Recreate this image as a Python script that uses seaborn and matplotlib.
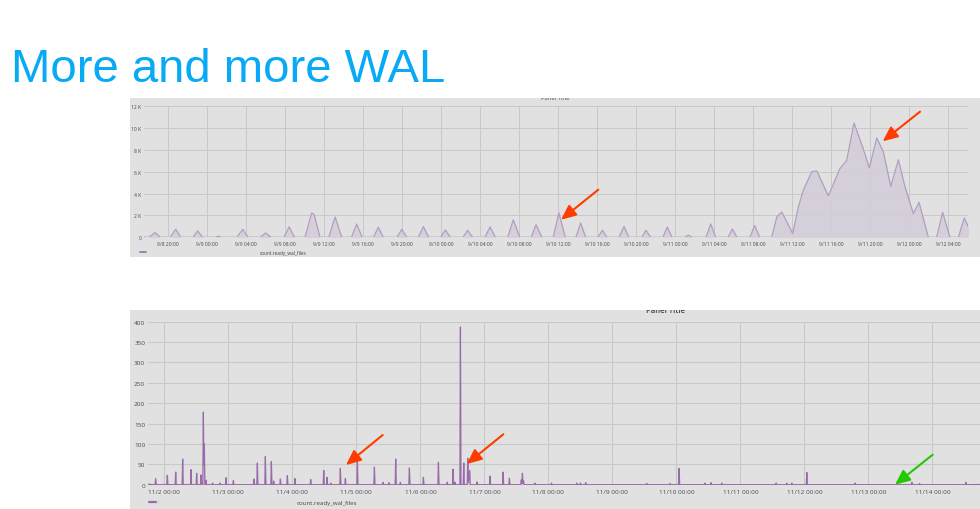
import matplotlib
matplotlib.use("Agg")
import matplotlib.pyplot as plt
import matplotlib.dates as mdates
from matplotlib.patches import FancyArrowPatch
from matplotlib.lines import Line2D
from matplotlib.ticker import FuncFormatter
import pandas as pd
import seaborn as sns

# ---------------- data ----------------
TITLE = "More and more WAL"
SERIES_NAME = "count.ready_wal_files"
PANEL_TITLE = "Panel Title"

top_times = [
    "09-08 17:25", "09-08 17:50",
    "09-08 18:05", "09-08 18:42", "09-08 19:15",
    "09-08 20:15", "09-08 20:49", "09-08 21:20",
    "09-08 22:35", "09-08 23:04", "09-08 23:35",
    "09-09 00:50", "09-09 01:11", "09-09 01:30",
    "09-09 03:05", "09-09 03:41", "09-09 04:15",
    "09-09 05:30", "09-09 06:02", "09-09 06:35",
    "09-09 07:55", "09-09 08:26", "09-09 09:00",
    "09-09 10:04", "09-09 10:45", "09-09 11:00", "09-09 11:36",
    "09-09 12:30", "09-09 13:09", "09-09 13:50",
    "09-09 14:50", "09-09 15:22", "09-09 15:55",
    "09-09 17:05", "09-09 17:35", "09-09 18:05",
    "09-09 19:30", "09-09 19:59", "09-09 20:30",
    "09-09 21:40", "09-09 22:12", "09-09 22:45",
    "09-09 23:58", "09-10 00:27", "09-10 00:58",
    "09-10 02:15", "09-10 02:44", "09-10 03:15",
    "09-10 04:30", "09-10 05:02", "09-10 05:35",
    "09-10 06:50", "09-10 07:25", "09-10 08:05",
    "09-10 09:15", "09-10 09:45", "09-10 10:20",
    "09-10 11:30", "09-10 12:05", "09-10 12:45",
    "09-10 13:50", "09-10 14:19", "09-10 14:50",
    "09-10 16:05", "09-10 16:33", "09-10 17:00",
    "09-10 18:15", "09-10 18:46", "09-10 19:15",
    "09-10 20:35", "09-10 21:01", "09-10 21:30",
    "09-10 22:45", "09-10 23:12", "09-10 23:40",
    "09-11 01:00", "09-11 01:21", "09-11 01:45",
    "09-11 03:10", "09-11 03:39", "09-11 04:10",
    "09-11 05:25", "09-11 05:52", "09-11 06:20",
    "09-11 07:40", "09-11 08:09", "09-11 08:40",
    "09-11 09:54", "09-11 10:25", "09-11 10:56", "09-11 12:03",
    "09-11 12:38", "09-11 13:08", "09-11 14:00", "09-11 14:31",
    "09-11 15:42", "09-11 16:10", "09-11 16:54", "09-11 17:35",
    "09-11 18:20", "09-11 19:17", "09-11 19:54", "09-11 20:40",
    "09-11 21:21", "09-11 22:06", "09-11 22:53", "09-11 23:34",
    "09-12 00:25", "09-12 01:00", "09-12 01:57",
    "09-12 02:48", "09-12 03:25", "09-12 04:10",
    "09-12 05:02", "09-12 05:38", "09-12 06:03",
]
top_values = [
    50, 0,
    0, 430, 0,
    0, 730, 0,
    0, 580, 0,
    0, 100, 0,
    0, 730, 0,
    0, 400, 0,
    0, 950, 0,
    0, 2230, 2100, 0,
    0, 1860, 0,
    0, 1220, 0,
    0, 920, 0,
    0, 730, 0,
    0, 980, 0,
    0, 670, 0,
    0, 640, 0,
    0, 950, 0,
    0, 1600, 0,
    0, 1160, 0,
    0, 2230, 0,
    0, 1310, 0,
    0, 640, 0,
    0, 1000, 0,
    0, 640, 0,
    0, 950, 0,
    0, 200, 0,
    0, 1220, 0,
    0, 760, 0,
    0, 1070, 0,
    0, 1860, 2320, 340,
    2780, 4300, 6000, 6080,
    3800, 4760, 6300, 7050,
    10470, 8100, 6350, 9100,
    7800, 4670, 7100, 4600,
    2170, 3200, 0,
    0, 2300, 0,
    0, 1770, 950,
]

bottom_times = [
    "11-01 17:50",
    "11-01 20:30", "11-01 20:45", "11-01 21:00",
    "11-02 00:55", "11-02 01:08", "11-02 01:20",
    "11-02 04:04", "11-02 04:16", "11-02 04:28",
    "11-02 06:41", "11-02 06:53", "11-02 07:05",
    "11-02 09:49", "11-02 10:01", "11-02 10:13",
    "11-02 11:56", "11-02 12:08", "11-02 12:20",
    "11-02 13:34", "11-02 13:46", "11-02 13:58",
    "11-02 14:26", "11-02 14:38", "11-02 14:50", "11-02 15:00", "11-02 15:12",
    "11-02 15:26", "11-02 15:38", "11-02 15:50",
    "11-02 17:54", "11-02 18:06", "11-02 18:18",
    "11-02 20:41", "11-02 20:53", "11-02 21:05",
    "11-02 22:56", "11-02 23:08", "11-02 23:20",
    "11-03 01:41", "11-03 01:53", "11-03 02:05",
    "11-03 09:26", "11-03 09:38", "11-03 09:50",
    "11-03 10:41", "11-03 10:53", "11-03 11:05",
    "11-03 13:41", "11-03 13:53", "11-03 14:05",
    "11-03 15:56", "11-03 16:08", "11-03 16:20",
    "11-03 16:49", "11-03 17:01", "11-03 17:13",
    "11-03 19:19", "11-03 19:31", "11-03 19:43",
    "11-03 21:56", "11-03 22:08", "11-03 22:20",
    "11-04 00:48", "11-04 01:00", "11-04 01:12",
    "11-04 06:41", "11-04 06:53", "11-04 07:05",
    "11-04 11:34", "11-04 11:46", "11-04 11:58",
    "11-04 12:48", "11-04 13:00", "11-04 13:12",
    "11-04 14:12", "11-04 14:24", "11-04 14:36",
    "11-04 17:48", "11-04 18:00", "11-04 18:12",
    "11-04 19:41", "11-04 19:53", "11-04 20:05",
    "11-05 00:11", "11-05 00:23", "11-05 00:35",
    "11-05 06:34", "11-05 06:46", "11-05 06:58",
    "11-05 09:51", "11-05 10:03", "11-05 10:15",
    "11-05 11:59", "11-05 12:11", "11-05 12:23",
    "11-05 14:33", "11-05 14:45", "11-05 14:57",
    "11-05 16:18", "11-05 16:30", "11-05 16:42",
    "11-05 19:41", "11-05 19:53", "11-05 20:05",
    "11-06 00:56", "11-06 01:08", "11-06 01:20",
    "11-06 06:34", "11-06 06:46", "11-06 06:58",
    "11-06 09:53", "11-06 10:05", "11-06 10:17",
    "11-06 12:04", "11-06 12:16", "11-06 12:28",
    "11-06 12:48", "11-06 13:00", "11-06 13:12",
    "11-06 14:49", "11-06 15:01", "11-06 15:13",
    "11-06 16:04", "11-06 16:16", "11-06 16:28",
    "11-06 17:34", "11-06 17:46", "11-06 17:58", "11-06 18:30", "11-06 18:42",
    "11-06 21:04", "11-06 21:16", "11-06 21:28",
    "11-07 01:56", "11-07 02:08", "11-07 02:20",
    "11-07 06:49", "11-07 07:01", "11-07 07:13",
    "11-07 09:11", "11-07 09:23", "11-07 09:35",
    "11-07 13:38", "11-07 13:50", "11-07 14:02", "11-07 14:16", "11-07 14:28", "11-07 14:40", "11-07 14:52",
    "11-07 18:44", "11-07 18:56", "11-07 19:08",
    "11-08 00:58", "11-08 01:10", "11-08 01:22",
    "11-08 10:26", "11-08 10:38", "11-08 10:50",
    "11-08 11:48", "11-08 12:00", "11-08 12:12",
    "11-08 13:48", "11-08 14:00", "11-08 14:12",
    "11-09 12:41", "11-09 12:53", "11-09 13:05",
    "11-09 21:24", "11-09 21:36", "11-09 21:48",
    "11-10 00:48", "11-10 01:00", "11-10 01:12",
    "11-10 10:33", "11-10 10:45", "11-10 10:57",
    "11-10 12:48", "11-10 13:00", "11-10 13:12",
    "11-10 16:48", "11-10 17:00", "11-10 17:12",
    "11-11 13:11", "11-11 13:23", "11-11 13:35",
    "11-11 17:10", "11-11 17:22", "11-11 17:34",
    "11-11 19:03", "11-11 19:15", "11-11 19:27",
    "11-12 00:41", "11-12 00:53", "11-12 01:05",
    "11-12 18:48", "11-12 19:00", "11-12 19:12",
    "11-13 16:04", "11-13 16:16", "11-13 16:28",
    "11-13 18:57", "11-13 19:09", "11-13 19:21",
    "11-14 12:18", "11-14 12:30", "11-14 12:42",
    "11-15 01:00",
]
bottom_values = [
    1,
    0, 15, 0,
    0, 23, 0,
    0, 31, 0,
    0, 63, 0,
    0, 37, 0,
    0, 28, 0,
    0, 24, 0,
    0, 178, 47, 100, 0,
    0, 11, 0,
    0, 4, 0,
    0, 4, 0,
    0, 17, 0,
    0, 10, 0,
    0, 14, 0,
    0, 53, 0,
    0, 69, 0,
    0, 57, 0,
    0, 9, 0,
    0, 14, 0,
    0, 22, 0,
    0, 15, 0,
    0, 13, 0,
    0, 35, 0,
    0, 18, 0,
    0, 4, 0,
    0, 40, 0,
    0, 15, 0,
    0, 63, 0,
    0, 43, 0,
    0, 6, 0,
    0, 5, 0,
    0, 63, 0,
    0, 6, 0,
    0, 41, 0,
    0, 18, 0,
    0, 55, 0,
    0, 6, 0,
    0, 38, 0,
    0, 6, 0,
    0, 387, 0,
    0, 53, 0,
    0, 65, 5, 35, 0,
    0, 7, 0,
    0, 21, 0,
    0, 31, 0,
    0, 16, 0,
    0, 12, 3, 28, 3, 10, 0,
    0, 4, 0,
    0, 4, 0,
    0, 4, 0,
    0, 4, 0,
    0, 5, 0,
    0, 3, 0,
    0, 3, 0,
    0, 40, 0,
    0, 4, 0,
    0, 5, 0,
    0, 4, 0,
    0, 4, 0,
    0, 4, 0,
    0, 4, 0,
    0, 30, 0,
    0, 4, 0,
    0, 6, 0,
    0, 3, 0,
    0, 6, 0,
    1,
]

top_yticks = [0, 2000, 4000, 6000, 8000, 10000, 12000]
bottom_yticks = [0, 50, 100, 150, 200, 250, 300, 350, 400]

# ---------------- style ----------------
sns.set_theme(style="white")
plt.rcParams["font.family"] = ["Open Sans", "DejaVu Sans"]

W, H = 980, 510
fig = plt.figure(figsize=(W / 100, H / 100), dpi=100)
fig.patch.set_facecolor("white")


def px_rect(x0, y0, x1, y1):
    return [x0 / W, 1 - y1 / H, (x1 - x0) / W, (y1 - y0) / H]


def fpx(x, y):
    return (x / W, 1 - y / H)


PANEL_BG = "#e0e1e0"
GRID = "#c8c9c8"
TICK_COLOR = "#4a4a4a"

# panel backgrounds
bg_top = fig.add_axes(px_rect(130, 99, 985, 258))
bg_bot = fig.add_axes(px_rect(130, 311, 985, 515))
for bg in (bg_top, bg_bot):
    bg.set_facecolor(PANEL_BG)
    bg.set_xticks([])
    bg.set_yticks([])
    for s in bg.spines.values():
        s.set_visible(False)
    bg.set_xlim(0, 1)
    bg.set_ylim(0, 1)

# clipped panel titles
bg_top.text((555 - 130) / 855, 1.0, PANEL_TITLE, ha="center", va="center",
            fontsize=4.2, color="#555555", clip_on=True, transform=bg_top.transAxes)
bg_bot.text((665 - 130) / 855, 1.0, PANEL_TITLE, ha="center", va="center",
            fontsize=5.6, color="#444444", clip_on=True, transform=bg_bot.transAxes,
            fontweight="semibold")


def month_day_fmt(x, pos=None):
    d = mdates.num2date(x)
    return f"{d.month}/{d.day} {d:%H:%M}"


# ---------------- top chart ----------------
top_df = pd.DataFrame({"time": pd.to_datetime(["2017-" + t for t in top_times]),
                       "value": top_values})
ax1 = fig.add_axes(px_rect(144, 107.3, 968, 238.3))
ax1.set_facecolor("none")
ax1.fill_between(top_df["time"], top_df["value"], 0, color="#d3cdd8", alpha=0.9,
                 linewidth=0, zorder=2)
sns.lineplot(data=top_df, x="time", y="value", ax=ax1, color="#b49cc2",
             linewidth=0.9, zorder=3)
ax1.set_xlim(pd.Timestamp("2017-09-08 17:34"), pd.Timestamp("2017-09-12 06:01"))
ax1.set_ylim(0, 12000)
ax1.set_yticks(top_yticks)
ax1.yaxis.set_major_formatter(FuncFormatter(lambda v, p: "0" if v == 0 else f"{int(v / 1000)} K"))
ax1.xaxis.set_major_locator(mdates.HourLocator(byhour=[0, 4, 8, 12, 16, 20]))
ax1.xaxis.set_major_formatter(FuncFormatter(month_day_fmt))
ax1.tick_params(axis="both", length=0, labelsize=3.6, colors=TICK_COLOR)
ax1.tick_params(axis="y", pad=2)
ax1.tick_params(axis="x", pad=2.5)
ax1.grid(True, color=GRID, linewidth=0.7, zorder=0)
ax1.set_axisbelow(True)
ax1.set_xlabel("")
ax1.set_ylabel("")
for s in ax1.spines.values():
    s.set_visible(False)

# ---------------- bottom chart ----------------
bot_df = pd.DataFrame({"time": pd.to_datetime(["2017-" + t for t in bottom_times]),
                       "value": bottom_values})
ax2 = fig.add_axes(px_rect(148, 322.7, 985, 485.7))
ax2.set_facecolor("none")
ax2.fill_between(bot_df["time"], bot_df["value"], 0, color="#c9b6d2", alpha=0.5,
                 linewidth=0, zorder=2)
sns.lineplot(data=bot_df, x="time", y="value", ax=ax2, color="#9b6aab",
             linewidth=0.9, zorder=3)
ax2.set_xlim(pd.Timestamp("2017-11-01 17:53"), pd.Timestamp("2017-11-14 19:41"))
ax2.set_ylim(0, 400)
ax2.set_yticks(bottom_yticks)
ax2.xaxis.set_major_locator(mdates.DayLocator())
ax2.xaxis.set_major_formatter(FuncFormatter(month_day_fmt))
ax2.tick_params(axis="both", length=0, labelsize=4.6, colors=TICK_COLOR)
ax2.tick_params(axis="y", pad=2)
ax2.tick_params(axis="x", pad=3)
ax2.grid(True, color=GRID, linewidth=0.8, zorder=0)
ax2.set_axisbelow(True)
ax2.set_xlabel("")
ax2.set_ylabel("")
for s in ax2.spines.values():
    s.set_visible(False)

# ---------------- legends (Grafana style) ----------------
fig.add_artist(Line2D([139.5 / W, 145.5 / W], [1 - 252.8 / H] * 2, color="#9b6aab",
                      linewidth=1.2, transform=fig.transFigure))
fig.text(283 / W, 1 - 253 / H, SERIES_NAME, ha="center", va="center",
         fontsize=3.4, color="#444444")
fig.add_artist(Line2D([148.5 / W, 155.5 / W], [1 - 503.3 / H] * 2, color="#9b6aab",
                      linewidth=1.6, transform=fig.transFigure))
fig.text(158 / W, 1 - 503 / H, ":", ha="center", va="center",
         fontsize=3.5, color="#888888")
fig.text(327 / W, 1 - 503.3 / H, SERIES_NAME, ha="center", va="center",
         fontsize=4.4, color="#444444")

# ---------------- title ----------------
fig.text(11 / W, 1 - 82.3 / H, TITLE, ha="left", va="baseline", fontsize=34,
         color="#08aaf6", family=["Liberation Sans", "DejaVu Sans"])

# ---------------- arrows ----------------
RED = "#ff3c00"
GREEN = "#22c800"
arrows = [
    ((598.3, 190.7), (561.0, 220.7), RED),
    ((920.0, 112.7), (882.7, 142.3), RED),
    ((382.7, 436.0), (346.0, 466.0), RED),
    ((503.3, 435.3), (466.7, 465.0), RED),
    ((932.7, 455.7), (895.0, 485.7), GREEN),
]
for tail, tip, col in arrows:
    fig.add_artist(FancyArrowPatch(fpx(*tail), fpx(*tip), transform=fig.transFigure,
                                   arrowstyle="-|>,head_length=9,head_width=4",
                                   mutation_scale=1, color=col, linewidth=1.5,
                                   shrinkA=0, shrinkB=0, zorder=10))

fig.savefig("out.png", dpi=100, facecolor="white")
